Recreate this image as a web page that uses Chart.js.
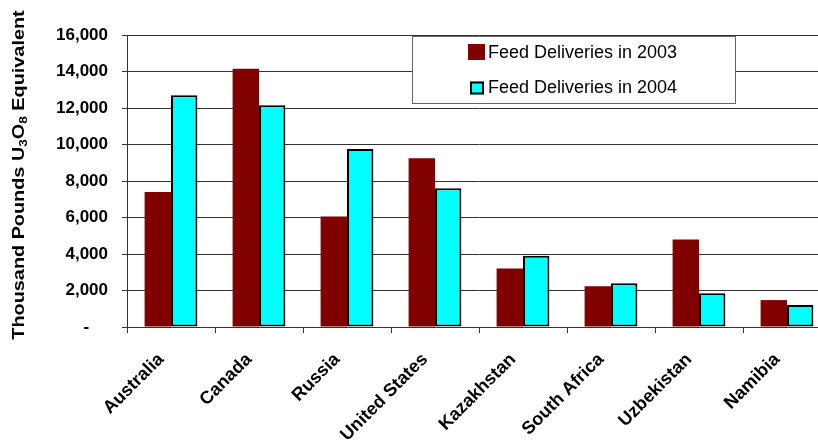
<!DOCTYPE html>
<html>
<head>
<meta charset="utf-8">
<script src="https://cdn.jsdelivr.net/npm/chart.js@4/dist/chart.umd.min.js"></script>
<style>
  html, body { margin: 0; padding: 0; background: #fff; overflow: hidden; }
  #wrap { width: 840px; height: 441px; }
</style>
</head>
<body>
<div id="wrap"><canvas id="myChart"></canvas></div>
<script>
// data (thousand pounds U3O8)
var countries = ["Australia", "Canada", "Russia", "United States", "Kazakhstan", "South Africa", "Uzbekistan", "Namibia"];
var feed2003 = [7400, 14150, 6050, 9250, 3200, 2230, 4800, 1475];
var feed2004 = [12700, 12150, 9750, 7600, 3900, 2400, 1850, 1200];
var yTickLabels = ["-    ", "2,000", "4,000", "6,000", "8,000", "10,000", "12,000", "14,000", "16,000"];

var FONT = "'Liberation Sans', Arial, sans-serif";

// y axis title with subscripts, drawn by hand
var axisTitle = {
  id: "axisTitle",
  afterDraw: function(chart) {
    var ctx = chart.ctx;
    var parts = [["Thousand Pounds U", 16, 0], ["3", 11, 3], ["O", 16, 0], ["8", 11, 3], [" Equivalent", 16, 0]];
    ctx.save();
    ctx.translate(24, 175);
    ctx.rotate(-Math.PI / 2);
    ctx.scale(1.24, 1);
    ctx.fillStyle = "#000";
    ctx.textBaseline = "alphabetic";
    var total = 0;
    parts.forEach(function(p) {
      ctx.font = "bold " + p[1] + "px " + FONT;
      total += ctx.measureText(p[0]).width;
    });
    var x = -total / 2;
    parts.forEach(function(p) {
      ctx.font = "bold " + p[1] + "px " + FONT;
      ctx.fillText(p[0], x, p[2]);
      x += ctx.measureText(p[0]).width;
    });
    ctx.restore();
  }
};

// boxed legend inside the plot
var boxLegend = {
  id: "boxLegend",
  afterDraw: function(chart) {
    var ctx = chart.ctx;
    ctx.save();
    ctx.fillStyle = "#fff";
    ctx.fillRect(412.5, 36.5, 323, 67);
    ctx.strokeStyle = "#666";
    ctx.lineWidth = 1;
    ctx.strokeRect(412.5, 36.5, 323, 67);
    chart.data.datasets.forEach(function(ds, i) {
      var y = 52 + i * 35.5;
      ctx.fillStyle = ds.backgroundColor;
      if (ds.borderWidth) {
        ctx.fillRect(470, y - 6, 14, 13);
        ctx.strokeStyle = "#000";
        ctx.lineWidth = 2;
        ctx.strokeRect(471, y - 5, 12, 11);
      } else {
        ctx.fillRect(468, y - 8, 17, 16);
      }
      ctx.fillStyle = "#000";
      ctx.font = "18px " + FONT;
      ctx.textBaseline = "middle";
      ctx.fillText(ds.label, 488, y + 1);
    });
    ctx.restore();
  }
};

function init() {
  var ctx = document.getElementById("myChart").getContext("2d");
  var chart = new Chart(ctx, {
    type: "bar",
    data: {
      labels: countries,
      datasets: [{
        label: "Feed Deliveries in 2003",
        data: feed2003,
        backgroundColor: "#800000",
        borderWidth: 0
      }, {
        label: "Feed Deliveries in 2004",
        data: feed2004,
        backgroundColor: "#00FFFF",
        borderColor: "#000",
        borderWidth: 2,
        borderSkipped: false
      }]
    },
    options: {
      responsive: true,
      maintainAspectRatio: false,
      animation: false,
      layout: { padding: { left: 0, right: 9, top: 35, bottom: 0 } },
      datasets: { bar: { categoryPercentage: 0.6, barPercentage: 1.0 } },
      plugins: { legend: { display: false }, tooltip: { enabled: false } },
      scales: {
        x: {
          grid: { drawOnChartArea: false, drawTicks: true, tickLength: 6, color: "#333" },
          border: { color: "#333" },
          ticks: {
            color: "#000",
            font: { family: FONT, size: 18, weight: "bold" },
            maxRotation: 45,
            minRotation: 45,
            padding: 16,
            labelOffset: -10,
            autoSkip: false
          },
          afterFit: function(scale) { scale.height = 114; }
        },
        y: {
          min: 0,
          max: 16000,
          grid: { color: "#333", tickLength: 5 },
          border: { color: "#333" },
          ticks: {
            stepSize: 2000,
            color: "#000",
            padding: 14,
            font: { family: FONT, size: 17, weight: "bold" },
            callback: function(value, index) { return yTickLabels[index]; }
          },
          afterFit: function(scale) { scale.width = 127; }
        }
      }
    },
    plugins: [axisTitle, boxLegend]
  });
}

init();
</script>
</body>
</html>
